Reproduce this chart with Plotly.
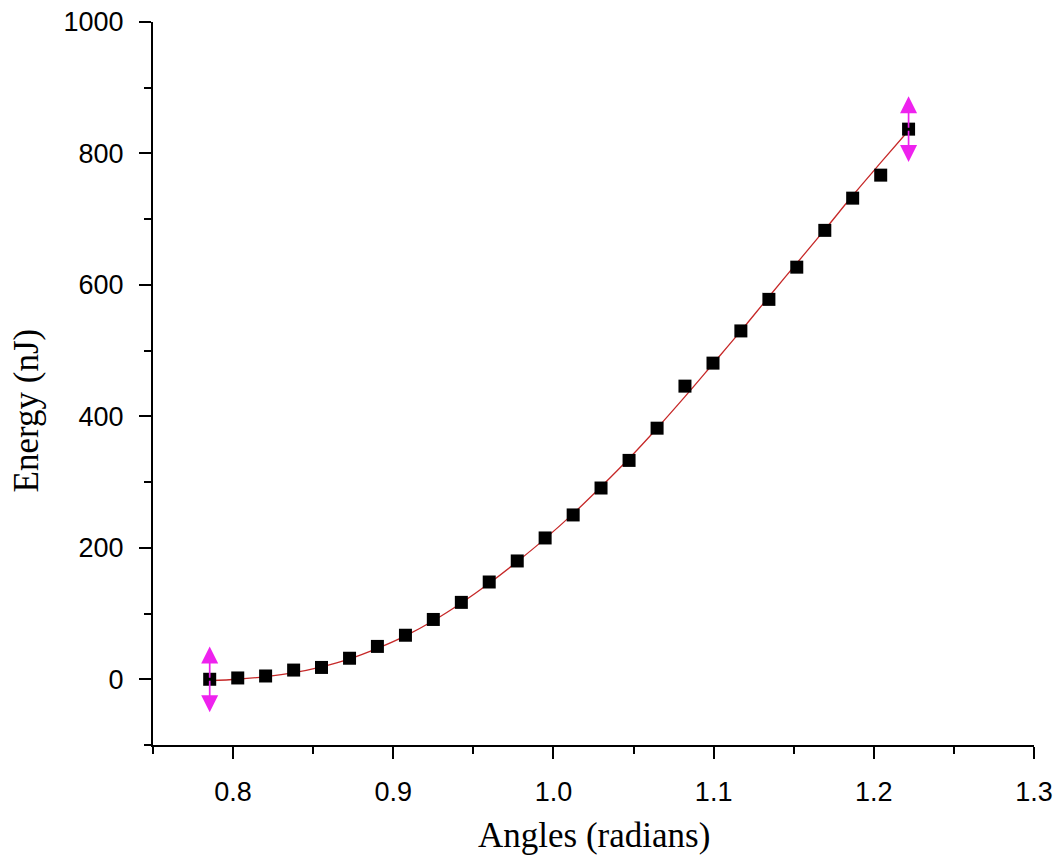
import plotly.graph_objects as go

# Data
angles = [0.7854, 0.8029, 0.8203, 0.8378, 0.8552, 0.8727, 0.8901, 0.9076, 0.9250,
          0.9425, 0.9599, 0.9774, 0.9948, 1.0123, 1.0297, 1.0472, 1.0647, 1.0821,
          1.0996, 1.1170, 1.1345, 1.1519, 1.1694, 1.1868, 1.2043, 1.2217]
energy = [0, 2, 5, 14, 18, 32, 50, 67, 91, 117, 148, 180, 215, 250, 291, 333,
          382, 446, 481, 530, 578, 627, 683, 732, 767, 837]
fit_energy = [-2, 0, 4, 10, 19, 31, 47, 66, 89, 116, 146, 179, 214, 252, 293, 336,
              382, 430, 480, 530, 582, 633, 684, 736, 786, 835]
err_idx = [0, 25]
err_size = [50, 50]

fig = go.Figure()
fig.add_trace(go.Scatter(x=angles, y=fit_energy, mode="lines", line_shape="spline",
                         line=dict(color="#c62828", width=1.3), showlegend=False,
                         hoverinfo="skip"))
fig.add_trace(go.Scatter(x=angles, y=energy, mode="markers",
                         marker=dict(symbol="square", size=13, color="black"),
                         showlegend=False))

for i, e in zip(err_idx, err_size):
    for sign in (1, -1):
        fig.add_annotation(x=angles[i], y=energy[i] + sign * e,
                           ax=angles[i], ay=energy[i], axref="x", ayref="y",
                           xref="x", yref="y", text="", showarrow=True,
                           arrowhead=2, arrowsize=2.0, arrowwidth=1.7,
                           arrowcolor="#ee22ee", standoff=0, startstandoff=0)

axis_common = dict(showline=True, linecolor="black", linewidth=2,
                   ticks="outside", tickcolor="black", tickwidth=2, ticklen=12,
                   showgrid=False, zeroline=False, mirror=False, automargin=False,
                   tickfont=dict(family="Liberation Sans, Arial", size=27, color="black"))

fig.update_xaxes(range=[0.75, 1.3], dtick=0.1, tick0=0.8, tickformat=".1f",
                 minor=dict(ticks="outside", ticklen=7, dtick=0.05, tick0=0.75,
                            tickcolor="black", tickwidth=2, showgrid=False),
                 ticklabelstandoff=10, **axis_common)
fig.update_yaxes(range=[-100, 1000], dtick=200, tick0=0,
                 minor=dict(ticks="outside", ticklen=7, dtick=100,
                            tickcolor="black", tickwidth=2, showgrid=False),
                 ticklabelstandoff=10, **axis_common)

title_font = dict(family="Liberation Serif, Times New Roman", size=35, color="black")
fig.add_annotation(text="Angles (radians)", xref="paper", yref="paper",
                   x=0.5, y=-0.125, xanchor="center", yanchor="middle",
                   showarrow=False, font=title_font)
fig.add_annotation(text="Energy (nJ)", xref="paper", yref="paper",
                   x=-0.144, y=0.463, xanchor="center", yanchor="middle",
                   textangle=-90, showarrow=False, font=title_font)

fig.update_layout(width=1058, height=860,
                  margin=dict(l=153, r=24, t=22, b=115, autoexpand=False),
                  plot_bgcolor="white", paper_bgcolor="white")

fig.write_html("out.html")
